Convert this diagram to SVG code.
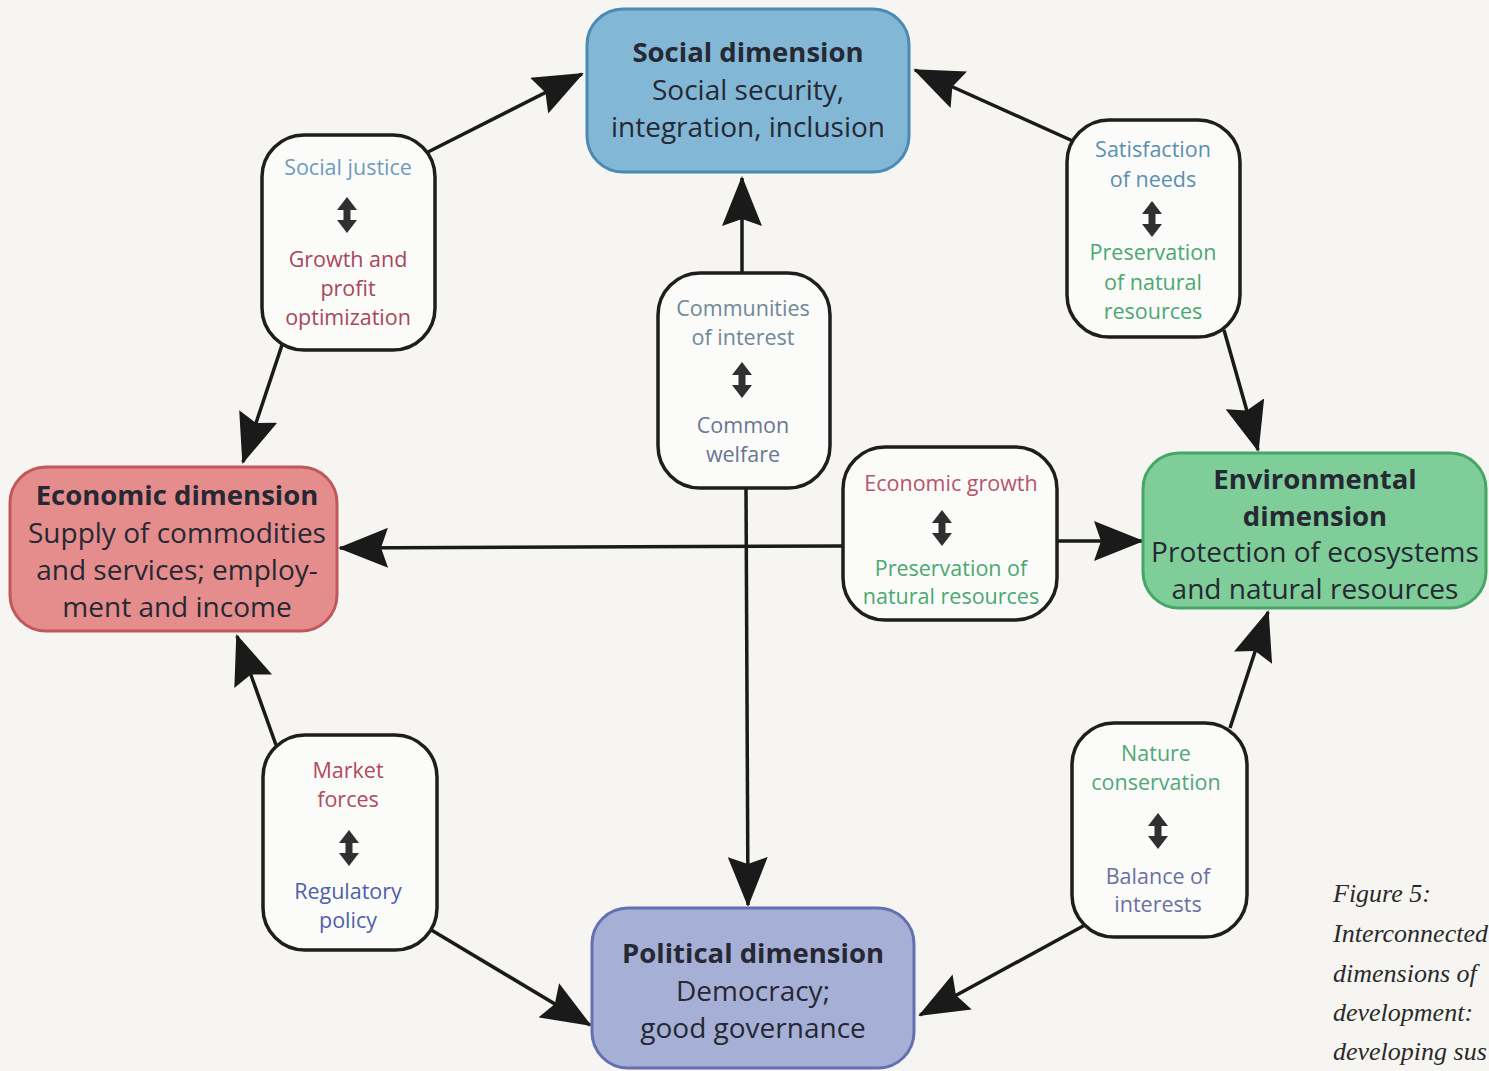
<svg xmlns="http://www.w3.org/2000/svg" width="1489" height="1071" viewBox="0 0 1489 1071">
  <style>
    .dim { stroke-width: 3; }
    .title { font-family: "Open Sans", "Noto Sans", sans-serif; font-size: 27.5px; font-weight: 700; fill: #262833; text-anchor: middle; }
    .sub { font-family: "Open Sans", "Noto Sans", sans-serif; font-size: 28px; fill: #262833; text-anchor: middle; }
    .box { fill: #fbfbfa; stroke: #1e1e1e; stroke-width: 3.5; }
    .lbl { font-family: "Open Sans", "Noto Sans", sans-serif; font-size: 21.5px; text-anchor: middle; }
    .conn { stroke: #1a1a1a; stroke-width: 3.5; fill: none; marker-end: url(#head); }
    .cap { font-family: "Liberation Serif", serif; font-style: italic; font-size: 26px; fill: #2a2a2a; }
  </style>
  <defs>
    <marker id="head" viewBox="0 0 50 40" refX="48" refY="20" markerWidth="50" markerHeight="40" markerUnits="userSpaceOnUse" orient="auto">
      <path d="M0,0 L50,20 L0,40 L7,20 z" fill="#1a1a1a"/>
    </marker>
    <!-- small two-way arrow used inside the tension boxes -->
    <path id="dbl" d="M0,0 L10,13 L3.5,13 L3.5,23 L10,23 L0,36 L-10,23 L-3.5,23 L-3.5,13 L-10,13 z" fill="#303030"/>
  </defs>

  <rect x="0" y="0" width="1489" height="1071" fill="#f6f5f2"/>

  <!-- connectors -->
  <g id="connectors">
    <path class="conn" d="M428,152 L582,74"/>
    <path class="conn" d="M282,345 L243,462"/>
    <path class="conn" d="M1075,142 L915,70"/>
    <path class="conn" d="M1224,330 L1258,450"/>
    <path class="conn" d="M742,273 L742,178"/>
    <path class="conn" d="M746,488 L748,905"/>
    <path class="conn" d="M843,546 L340,548"/>
    <path class="conn" d="M1057,541 L1142,541"/>
    <path class="conn" d="M276,745 L237,636"/>
    <path class="conn" d="M428,928 L590,1025"/>
    <path class="conn" d="M1230,728 L1268,612"/>
    <path class="conn" d="M1085,925 L920,1015"/>
  </g>

  <!-- four dimensions -->
  <g id="social">
    <rect class="dim" x="587" y="9" width="322" height="163" rx="36" fill="#82b7d5" stroke="#4b8ab3"/>
    <text class="title" x="748" y="62">Social dimension</text>
    <text class="sub" x="748" y="100">Social security,</text>
    <text class="sub" x="748" y="137">integration, inclusion</text>
  </g>
  <g id="economic">
    <rect class="dim" x="10" y="467" width="327" height="164" rx="36" fill="#e58d8c" stroke="#c0585a"/>
    <text class="title" x="177" y="505">Economic dimension</text>
    <text class="sub" x="177" y="543">Supply of commodities</text>
    <text class="sub" x="177" y="580">and services; employ-</text>
    <text class="sub" x="177" y="617">ment and income</text>
  </g>
  <g id="environmental">
    <rect class="dim" x="1143" y="453" width="343" height="155" rx="36" fill="#7fcd98" stroke="#46a567"/>
    <text class="title" x="1315" y="489">Environmental</text>
    <text class="title" x="1315" y="526">dimension</text>
    <text class="sub" x="1315" y="562">Protection of ecosystems</text>
    <text class="sub" x="1315" y="599">and natural resources</text>
  </g>
  <g id="political">
    <rect class="dim" x="592" y="908" width="322" height="160" rx="36" fill="#a6afd6" stroke="#6471b0"/>
    <text class="title" x="753" y="963">Political dimension</text>
    <text class="sub" x="753" y="1001">Democracy;</text>
    <text class="sub" x="753" y="1038">good governance</text>
  </g>

  <!-- tension boxes -->
  <g id="justice-growth">
    <rect class="box" x="262" y="135" width="173" height="215" rx="42"/>
    <text class="lbl" x="348" y="175" fill="#6e9cbc">Social justice</text>
    <use href="#dbl" x="347" y="197"/>
    <text class="lbl" x="348" y="267" fill="#a8475a">Growth and</text>
    <text class="lbl" x="348" y="296" fill="#a8475a">profit</text>
    <text class="lbl" x="348" y="325" fill="#a8475a">optimization</text>
  </g>
  <g id="needs-resources">
    <rect class="box" x="1067" y="120" width="173" height="217" rx="42"/>
    <text class="lbl" x="1153" y="157" fill="#5a8fb0">Satisfaction</text>
    <text class="lbl" x="1153" y="187" fill="#5a8fb0">of needs</text>
    <use href="#dbl" x="1152" y="201"/>
    <text class="lbl" x="1153" y="260" fill="#4aa870">Preservation</text>
    <text class="lbl" x="1153" y="290" fill="#4aa870">of natural</text>
    <text class="lbl" x="1153" y="319" fill="#4aa870">resources</text>
  </g>
  <g id="interest-welfare">
    <rect class="box" x="658" y="273" width="172" height="215" rx="42"/>
    <text class="lbl" x="743" y="316" fill="#6f8797">Communities</text>
    <text class="lbl" x="743" y="345" fill="#6f8797">of interest</text>
    <use href="#dbl" x="742" y="362"/>
    <text class="lbl" x="743" y="433" fill="#6a7590">Common</text>
    <text class="lbl" x="743" y="462" fill="#6a7590">welfare</text>
  </g>
  <g id="growth-preservation">
    <rect class="box" x="843" y="447" width="214" height="173" rx="42"/>
    <text class="lbl" x="951" y="491" fill="#b8546a">Economic growth</text>
    <use href="#dbl" x="942" y="510"/>
    <text class="lbl" x="951" y="576" fill="#4aa870">Preservation of</text>
    <text class="lbl" x="951" y="604" fill="#4aa870">natural resources</text>
  </g>
  <g id="market-regulation">
    <rect class="box" x="263" y="735" width="174" height="215" rx="42"/>
    <text class="lbl" x="348" y="778" fill="#b04a5c">Market</text>
    <text class="lbl" x="348" y="807" fill="#b04a5c">forces</text>
    <use href="#dbl" x="349" y="830"/>
    <text class="lbl" x="348" y="899" fill="#5060a8">Regulatory</text>
    <text class="lbl" x="348" y="928" fill="#5060a8">policy</text>
  </g>
  <g id="conservation-balance">
    <rect class="box" x="1072" y="723" width="175" height="214" rx="42"/>
    <text class="lbl" x="1156" y="761" fill="#50a878">Nature</text>
    <text class="lbl" x="1156" y="790" fill="#50a878">conservation</text>
    <use href="#dbl" x="1158" y="813"/>
    <text class="lbl" x="1158" y="884" fill="#6a70a0">Balance of</text>
    <text class="lbl" x="1158" y="912" fill="#6a70a0">interests</text>
  </g>

  <!-- caption -->
  <g id="caption">
    <text class="cap" x="1333" y="902">Figure 5:</text>
    <text class="cap" x="1333" y="942">Interconnected</text>
    <text class="cap" x="1333" y="982">dimensions of</text>
    <text class="cap" x="1333" y="1021">development:</text>
    <text class="cap" x="1333" y="1060">developing sus</text>
  </g>
</svg>
